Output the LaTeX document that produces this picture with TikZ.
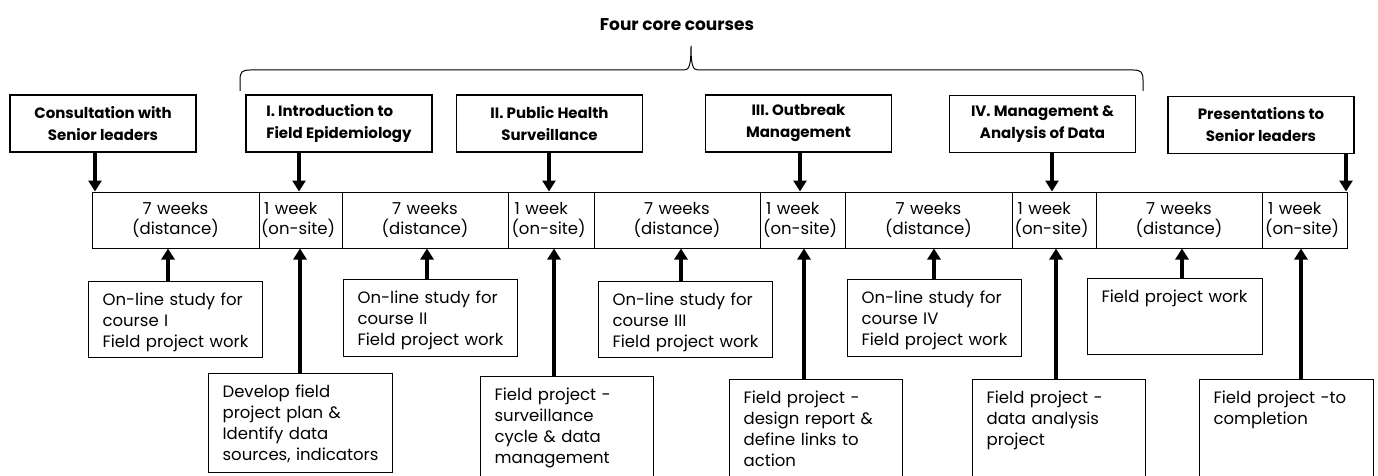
\documentclass[tikz,border=0pt]{standalone}
\usepackage{fontspec}
\setmainfont{Poppins}
\usetikzlibrary{arrows.meta}

\begin{document}
\begin{tikzpicture}[x=1pt,y=-1pt,
    head/.style={draw, line width=1.2pt, minimum width=186pt, minimum height=57pt,
        inner sep=2pt, align=center, font=\fontsize{15}{22}\selectfont\bfseries},
    cell/.style={draw, line width=1pt, minimum height=56pt, inner xsep=2pt, inner ysep=0pt,
        font=\fontsize{16.5}{20}\selectfont},
    notebox/.style={draw, line width=1.2pt, anchor=north west, align=left, inner xsep=14pt,
        inner ysep=12pt, text height=12pt, font=\fontsize{16.5}{21}\selectfont},
    arr/.style={line width=4.5pt, -{Triangle[width=13pt,length=11pt]}}]
    \useasboundingbox (0,0) rectangle (1378,476);
    \clip (0,0) rectangle (1378,476);

    \node[font=\fontsize{17}{20}\selectfont\bfseries] (title) at (677,25) {Four core courses};
    \draw[line width=1pt] (240,91) -- (240,80) .. controls (240,72) and (242,70) .. (250,70)
        -- (684,70) .. controls (689,70) and (691,66) .. (691,46)
        .. controls (691,66) and (693,70) .. (698,70) -- (1133,70)
        .. controls (1141,70) and (1143,72) .. (1143,80) -- (1143,91);

    \node[head] (cons) at (103,123.5) {Consultation with\\Senior leaders};
    \node[head, align=left] (c1) at (339,123.5) {I. Introduction to\\Field Epidemiology};
    \node[head] (c2) at (549.5,123.5) {II. Public Health\\Surveillance};
    \node[head] (c3) at (798.5,123.5) {III. Outbreak\\Management};
    \node[head] (c4) at (1042.5,124) {IV. Management \&\\Analysis of Data};
    \node[head] (pres) at (1261,125) {Presentations to\\Senior leaders};

    \foreach \i/\a/\b in {1/92/259, 2/342/508, 3/594/760, 4/845/1012, 5/1096/1262}
    \node[cell, minimum width=\b-\a, text width=150pt, align=center] (d\i) at ({(\a+\b)/2},220)
        {7 weeks\\(distance)};
    \foreach \i/\a/\b in {1/259/342, 2/508/594, 3/760/845, 4/1012/1096, 5/1262/1347}
    \node[cell, minimum width=\b-\a, text width=79pt, align=left] (w\i) at ({(\a+\b)/2},220)
        {\hspace*{3pt}1 week\\(on-site)};

    \node[notebox, text width=146pt, text depth=40pt] (n1) at (88,281)
        {On-line study for\\course I\\Field project work};
    \node[notebox, text width=146pt, text depth=41pt] (n2) at (343,279)
        {On-line study for\\course II\\Field project work};
    \node[notebox, text width=146pt, text depth=40pt] (n3) at (598,281)
        {On-line study for\\course III\\Field project work};
    \node[notebox, text width=146pt, text depth=41pt] (n4) at (847,279)
        {On-line study for\\course IV\\Field project work};
    \node[notebox, text width=147pt, text depth=40pt] (n5) at (1087,278)
        {Field project work};

    \node[notebox, text width=156pt, text depth=63pt] (m1) at (208,373)
        {Develop field\\project plan \&\\Identify data\\sources, indicators};
    \node[notebox, text width=145pt, text depth=68pt] (m2) at (480,376)
        {Field project -\\surveillance\\cycle \& data\\management};
    \node[notebox, text width=145pt, text depth=65pt] (m3) at (729,379)
        {Field project -\\design report \&\\define links to\\action};
    \node[notebox, text width=145pt, text depth=65pt] (m4) at (972,379)
        {Field project -\\data analysis\\project};
    \node[notebox, text width=146pt, text depth=65pt] (m5) at (1199,379)
        {Field project -to\\completion};

    \foreach \a/\b/\x in {cons/d1/95, c1/w1/299, c2/w2/549, c3/w3/800, c4/w4/1052, pres/w5/1346}
    \draw[arr] (\a.south -| \x,0) -- (\b.north -| \x,0);
    \foreach \a/\b/\x in {n1/d1/168, m1/w1/300, n2/d2/427, m2/w2/554, n3/d3/681,
        m3/w3/804, n4/d4/934, m4/w4/1056, n5/d5/1182, m5/w5/1301}
    \draw[arr] (\a.north -| \x,0) -- (\b.south -| \x,0);
\end{tikzpicture}
\end{document}
